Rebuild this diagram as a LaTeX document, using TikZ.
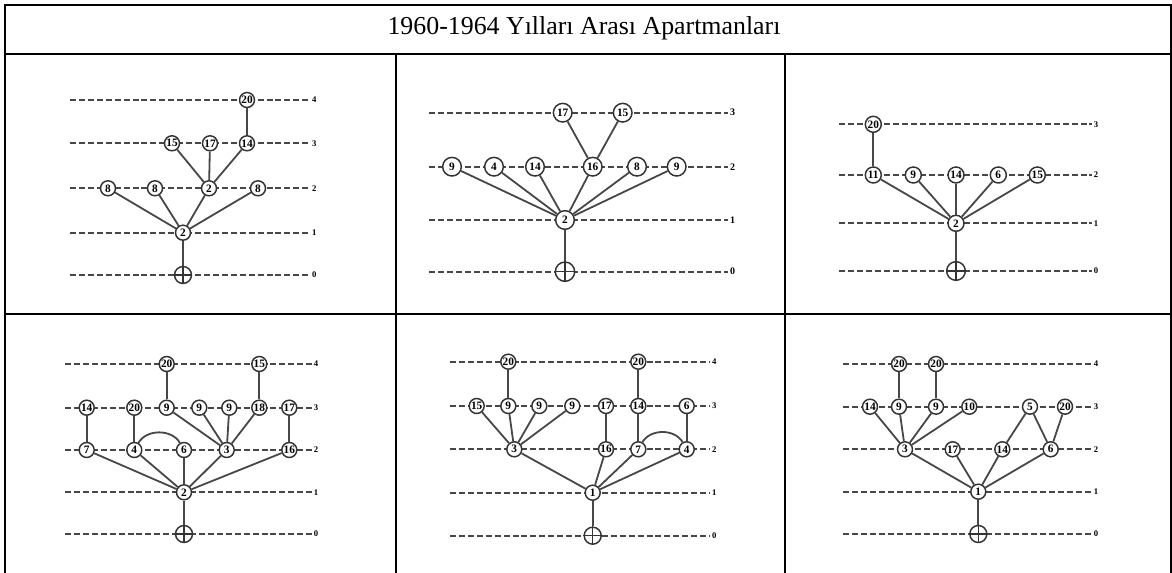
\documentclass[tikz,border=0pt]{standalone}
\usepackage{fontspec}
\setmainfont{Liberation Serif}
\usetikzlibrary{positioning}
\tikzset{
  frame/.style={line width=1.5pt,black},
  lvl/.style={dash pattern=on 4.5pt off 2.2pt,line width=1.35pt,draw=black!72},
  lvllab/.style={font=\fontsize{6.5}{6.5}\selectfont\bfseries,inner sep=1pt,anchor=west},
  vtx/.style={circle,draw=black!80,line width=1.1pt,fill=white,inner sep=0pt,
    minimum size=#1,font=\fontsize{8.5}{8.5}\selectfont\bfseries},
  vtx/.default=11.25pt,
  origin/.style={circle,draw=black!80,line width=1.1pt,fill=white,inner sep=0pt,minimum size=#1},
  origin/.default=12.75pt,
  link/.style={draw=black!72,line width=1.35pt},
  cross/.style={draw=black!80,line width=1pt},
}
\begin{document}
\begin{tikzpicture}[x=0.75pt,y=-0.75pt]
  \useasboundingbox (0,0) rectangle (1172,573);
  % table frame
  \draw[frame] (5,573) -- (5,5) -- (1171,5) -- (1171,573);
  \draw[frame] (5,54) -- (1171,54);
  \draw[frame] (5,314) -- (1171,314);
  \draw[frame] (396,54) -- (396,573);
  \draw[frame] (785,54) -- (785,573);
  \node[font=\fontsize{19.4}{19.4}\selectfont] (title) at (584,28) {1960-1964 Yılları Arası Apartmanları};

  % ---- cell 1 ----
  \foreach \k/\y in {0/275,1/232.7,2/188.3,3/143.3,4/100}
    \draw[lvl] (70,\y) -- (310,\y) node[lvllab] (p1l\k) {\k};
  \node[origin] (p1r) at (183,275) {};
  \draw[cross] (p1r.north) -- (p1r.south) (p1r.west) -- (p1r.east);
  \node[vtx] (p1a) at (183,232.7) {2};
  \node[vtx] (p1b) at (108,188.3) {8};
  \node[vtx] (p1c) at (155,188.3) {8};
  \node[vtx] (p1d) at (209,188.3) {2};
  \node[vtx] (p1e) at (258,188.3) {8};
  \node[vtx] (p1f) at (172,143.3) {15};
  \node[vtx] (p1g) at (210,143.3) {17};
  \node[vtx] (p1h) at (247,143.3) {14};
  \node[vtx] (p1i) at (247,100) {20};
  \draw[link] (p1a) -- (p1r);
  \foreach \n in {p1b,p1c,p1d,p1e} \draw[link] (p1a) -- (\n);
  \foreach \n in {p1f,p1g,p1h} \draw[link] (p1d) -- (\n);
  \draw[link] (p1h) -- (p1i);

  % ---- cell 2 ----
  \begin{scope}[vtx/.default=14pt,every node/.append style={font=\fontsize{10.5}{10.5}\selectfont\bfseries}]
  \foreach \k/\y in {0/271.7,1/220,2/166.7,3/112.7}
    \draw[lvl] (429,\y) -- (728,\y) node[lvllab,font=\fontsize{7.5}{7.5}\selectfont\bfseries] (p2l\k) {\k};
  \node[origin=14.5pt] (p2r) at (565,271.7) {};
  \draw[cross] (p2r.north) -- (p2r.south) (p2r.west) -- (p2r.east);
  \node[vtx] (p2a) at (565,220) {2};
  \node[vtx] (p2b) at (452,166.7) {9};
  \node[vtx] (p2c) at (494,166.7) {4};
  \node[vtx] (p2d) at (535,166.7) {14};
  \node[vtx] (p2e) at (592.7,166.7) {16};
  \node[vtx] (p2f) at (637,166.7) {8};
  \node[vtx] (p2g) at (676.7,166.7) {9};
  \node[vtx] (p2h) at (562.7,112.7) {17};
  \node[vtx] (p2i) at (622.7,112.7) {15};
  \draw[link] (p2a) -- (p2r);
  \foreach \n in {p2b,p2c,p2d,p2e,p2f,p2g} \draw[link] (p2a) -- (\n);
  \foreach \n in {p2h,p2i} \draw[link] (p2e) -- (\n);
  \end{scope}

  % ---- cell 3 ----
  \begin{scope}[vtx/.default=12pt]
  \foreach \k/\y in {0/271,1/223.3,2/175,3/124.3}
    \draw[lvl] (839.3,\y) -- (1091.7,\y) node[lvllab] (p3l\k) {\k};
  \node[origin=14pt] (p3r) at (956,271) {};
  \draw[cross] (p3r.north) -- (p3r.south) (p3r.west) -- (p3r.east);
  \node[vtx] (p3a) at (956,223.3) {2};
  \node[vtx] (p3b) at (873.3,175) {11};
  \node[vtx] (p3c) at (913.3,175) {9};
  \node[vtx] (p3d) at (956,175) {14};
  \node[vtx] (p3e) at (998.3,175) {6};
  \node[vtx] (p3f) at (1037.3,175) {15};
  \node[vtx] (p3g) at (873.3,124.3) {20};
  \draw[link] (p3a) -- (p3r);
  \foreach \n in {p3b,p3c,p3d,p3e,p3f} \draw[link] (p3a) -- (\n);
  \draw[link] (p3b) -- (p3g);
  \end{scope}

  % ---- cell 4 ----
  \foreach \k/\y in {0/534,1/492.3,2/450,3/407.7,4/364}
    \draw[lvl] (65,\y) -- (311.7,\y) node[lvllab] (p4l\k) {\k};
  \node[origin] (p4r) at (184,534) {};
  \draw[cross] (p4r.north) -- (p4r.south) (p4r.west) -- (p4r.east);
  \node[vtx] (p4a) at (184,492.3) {2};
  \node[vtx] (p4b) at (86.7,450) {7};
  \node[vtx] (p4c) at (134.3,450) {4};
  \node[vtx] (p4d) at (184,450) {6};
  \node[vtx] (p4e) at (226.7,450) {3};
  \node[vtx] (p4f) at (289.3,450) {16};
  \node[vtx] (p4g) at (86.7,407.7) {14};
  \node[vtx] (p4h) at (134.3,407.7) {20};
  \node[vtx] (p4i) at (166.7,407.7) {9};
  \node[vtx] (p4j) at (199.3,407.7) {9};
  \node[vtx] (p4k) at (229.3,407.7) {9};
  \node[vtx] (p4m) at (259.3,407.7) {18};
  \node[vtx] (p4n) at (289.3,407.7) {17};
  \node[vtx] (p4o) at (166.7,364) {20};
  \node[vtx] (p4p) at (259.3,364) {15};
  \draw[link] (p4a) -- (p4r);
  \foreach \n in {p4b,p4c,p4d,p4e,p4f} \draw[link] (p4a) -- (\n);
  \foreach \n in {p4i,p4j,p4k,p4m} \draw[link] (p4e) -- (\n);
  \draw[link] (p4b) -- (p4g);
  \draw[link] (p4c) -- (p4h);
  \draw[link] (p4f) -- (p4n);
  \draw[link] (p4i) -- (p4o);
  \draw[link] (p4m) -- (p4p);
  \draw[link] (p4c) to[out=60,in=120] (p4d);

  % ---- cell 5 ----
  \foreach \k/\y in {0/535.7,1/492.7,2/449.3,3/406,4/361.7}
    \draw[lvl] (450,\y) -- (710,\y) node[lvllab] (p5l\k) {\k};
  \node[origin] (p5r) at (592.7,535.7) {};
  \draw[cross] (p5r.north) -- (p5r.south) (p5r.west) -- (p5r.east);
  \node[vtx] (p5a) at (592.7,492.7) {1};
  \node[vtx] (p5b) at (514.3,449.3) {3};
  \node[vtx] (p5c) at (606,449.3) {16};
  \node[vtx] (p5d) at (638.3,449.3) {7};
  \node[vtx] (p5e) at (686.7,449.3) {4};
  \node[vtx] (p5f) at (476.7,406) {15};
  \node[vtx] (p5g) at (508.3,406) {9};
  \node[vtx] (p5h) at (539.3,406) {9};
  \node[vtx] (p5i) at (572.3,406) {9};
  \node[vtx] (p5j) at (606,406) {17};
  \node[vtx] (p5k) at (638.3,406) {14};
  \node[vtx] (p5m) at (686.7,406) {6};
  \node[vtx] (p5n) at (508.3,361.7) {20};
  \node[vtx] (p5o) at (638.3,361.7) {20};
  \draw[link] (p5a) -- (p5r);
  \foreach \n in {p5b,p5c,p5d,p5e} \draw[link] (p5a) -- (\n);
  \foreach \n in {p5f,p5g,p5h,p5i} \draw[link] (p5b) -- (\n);
  \draw[link] (p5c) -- (p5j);
  \draw[link] (p5d) -- (p5k);
  \draw[link] (p5e) -- (p5m);
  \draw[link] (p5g) -- (p5n);
  \draw[link] (p5k) -- (p5o);
  \draw[link] (p5d) to[out=60,in=120] (p5e);

  % ---- cell 6 ----
  \foreach \k/\y in {0/534,1/491.7,2/449.3,3/406.7,4/364}
    \draw[lvl] (843.3,\y) -- (1091.7,\y) node[lvllab] (p6l\k) {\k};
  \node[origin] (p6r) at (978.3,534) {};
  \draw[cross] (p6r.north) -- (p6r.south) (p6r.west) -- (p6r.east);
  \node[vtx] (p6a) at (978.3,491.7) {1};
  \node[vtx] (p6b) at (905,449.3) {3};
  \node[vtx] (p6c) at (952.7,449.3) {17};
  \node[vtx] (p6d) at (1002.3,449.3) {14};
  \node[vtx] (p6e) at (1050.7,449.3) {6};
  \node[vtx] (p6f) at (870,406.7) {14};
  \node[vtx] (p6g) at (899,406.7) {9};
  \node[vtx] (p6h) at (936,406.7) {9};
  \node[vtx] (p6i) at (969.3,406.7) {10};
  \node[vtx] (p6j) at (1030,406.7) {5};
  \node[vtx] (p6k) at (1065,406.7) {20};
  \node[vtx] (p6m) at (899,364) {20};
  \node[vtx] (p6n) at (936,364) {20};
  \draw[link] (p6a) -- (p6r);
  \foreach \n in {p6b,p6c,p6d,p6e} \draw[link] (p6a) -- (\n);
  \foreach \n in {p6f,p6g,p6h,p6i} \draw[link] (p6b) -- (\n);
  \draw[link] (p6j) -- (p6d);
  \draw[link] (p6j) -- (p6e);
  \draw[link] (p6k) -- (p6e);
  \draw[link] (p6g) -- (p6m);
  \draw[link] (p6h) -- (p6n);
\end{tikzpicture}
\end{document}
